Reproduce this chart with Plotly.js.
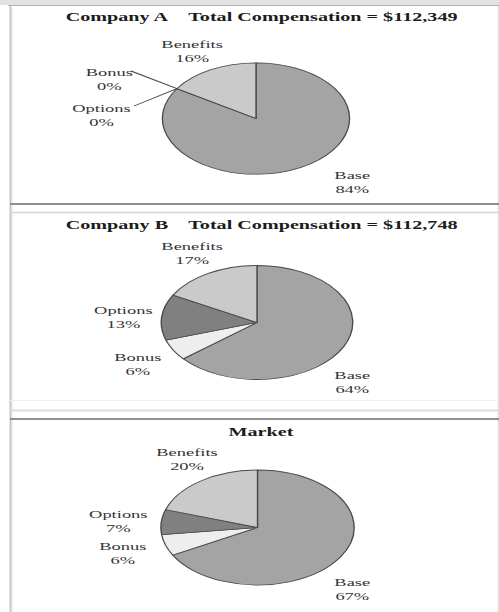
<!DOCTYPE html>
<html>
<head>
<meta charset="utf-8">
<script src="https://cdn.plot.ly/plotly-3.0.1.min.js"></script>
<style>
  html, body { margin: 0; padding: 0; background: #ffffff; overflow: hidden; }
  #wrap { width: 499px; height: 612px; overflow: hidden; }
  #chart { width: 297px; height: 612px; transform: scaleX(1.68013); transform-origin: 0 0; }
</style>
</head>
<body>
<div id="wrap"><div id="chart"></div></div>
<script>
// Compensation mix, clockwise from 12 o'clock
const categories = ['Base', 'Bonus', 'Options', 'Benefits'];
const companyA = [84, 0, 0, 16];
const companyB = [64, 6, 13, 17];
const market = [67, 6, 7, 20];
const panelTitles = [
  'Company A\u00a0\u00a0\u00a0\u00a0Total Compensation = $112,349',
  'Company B\u00a0\u00a0\u00a0\u00a0Total Compensation = $112,748',
  'Market'
];
const sliceColors = ['#a4a4a4', '#eeeeee', '#808080', '#cacaca'];

// The drawing is laid out narrow and stretched sideways by CSS (flattened pies)
const W = 297, H = 612, S = 499 / W;
const SERIF = 'Liberation Serif, Times New Roman, serif';

const panels = [
  { values: companyA, cx: 256, cy: 118.5, r: 55.7, titleY: 17,
    labels: { Base: [352, 182], Bonus: [109, 79], Options: [102, 115], Benefits: [192, 51] } },
  { values: companyB, cx: 257, cy: 322.5, r: 57, titleY: 225,
    labels: { Base: [352, 382], Bonus: [137, 364], Options: [123, 317], Benefits: [192, 253] } },
  { values: market, cx: 257.5, cy: 527.5, r: 57.5, titleY: 432,
    labels: { Base: [352, 589], Bonus: [123, 553], Options: [118, 521], Benefits: [187, 459] } }
];

const traces = [];
const annotations = [];
const shapes = [];

panels.forEach((p, i) => {
  const cx = p.cx / S;
  traces.push({
    type: 'pie',
    values: p.values,
    labels: categories,
    sort: false,
    direction: 'clockwise',
    rotation: 0,
    textinfo: 'none',
    hoverinfo: 'label+percent',
    showlegend: false,
    marker: { colors: sliceColors, line: { color: '#4a4a4a', width: 0.8 } },
    domain: {
      x: [(cx - p.r) / W, (cx + p.r) / W],
      y: [1 - (p.cy + p.r) / H, 1 - (p.cy - p.r) / H]
    }
  });

  annotations.push({
    xref: 'x', yref: 'y', x: 262 / S, y: p.titleY,
    text: '<b>' + panelTitles[i] + '</b>',
    showarrow: false, xanchor: 'center', yanchor: 'middle',
    font: { family: SERIF, size: 12, color: '#1c1c1c' }
  });

  categories.forEach((c, k) => {
    const pos = p.labels[c];
    annotations.push({
      xref: 'x', yref: 'y', x: pos[0] / S, y: pos[1],
      text: c + '<br>' + p.values[k] + '%',
      showarrow: false, xanchor: 'center', yanchor: 'middle',
      font: { family: SERIF, size: 11, color: '#353535' }
    });
  });
});

// Leader lines for the zero-width slices of Company A, ending at the slice edge
(function () {
  const p = panels[0];
  const total = p.values.reduce((a, b) => a + b, 0);
  const frac = (p.values[0] + p.values[1]) / total;
  const th = 2 * Math.PI * frac;
  const ex = p.cx / S + p.r * Math.sin(th);
  const ey = p.cy - p.r * Math.cos(th);
  [[131, 71], [134, 106]].forEach(s => {
    shapes.push({ type: 'line', xref: 'x', yref: 'y', x0: s[0] / S, y0: s[1], x1: ex, y1: ey,
      line: { color: '#4a4a4a', width: 0.9 } });
  });
})();

// Panel frames
function hline(y, x0, x1, color, width) {
  shapes.push({ type: 'line', xref: 'x', yref: 'y', x0: x0 / S, x1: x1 / S, y0: y, y1: y,
    line: { color: color, width: width } });
}
function vline(x, y0, y1, color, width) {
  shapes.push({ type: 'line', xref: 'x', yref: 'y', x0: x / S, x1: x / S, y0: y0, y1: y1,
    line: { color: color, width: width } });
}
shapes.push({ type: 'rect', xref: 'x', yref: 'y', x0: 0, x1: W, y0: 0, y1: 5,
  fillcolor: '#e3e1e3', line: { width: 0 } });
hline(5.5, 8, 499, '#b4b2b4', 1);
vline(10.5, 6, 612, '#c6c6c6', 1.2);
vline(12.5, 8, 612, '#efefef', 0.8);
vline(498.2, 6, 612, '#e2e2e2', 0.8);
hline(204, 10, 499, '#8e8e8e', 2);
hline(212.5, 10, 499, '#d6d6d6', 1.5);
hline(400.5, 10, 499, '#efefef', 1);
hline(410.5, 10, 499, '#dcdcdc', 2);
hline(419, 10, 499, '#6c6c6c', 1.6);

const layout = {
  width: W, height: H,
  margin: { l: 0, r: 0, t: 0, b: 0 },
  paper_bgcolor: '#ffffff', plot_bgcolor: 'rgba(0,0,0,0)',
  xaxis: { range: [0, W], visible: false, fixedrange: true },
  yaxis: { range: [H, 0], visible: false, fixedrange: true },
  annotations: annotations,
  shapes: shapes,
  showlegend: false
};

Plotly.newPlot('chart', traces, layout, { displayModeBar: false, staticPlot: true });
</script>
</body>
</html>
